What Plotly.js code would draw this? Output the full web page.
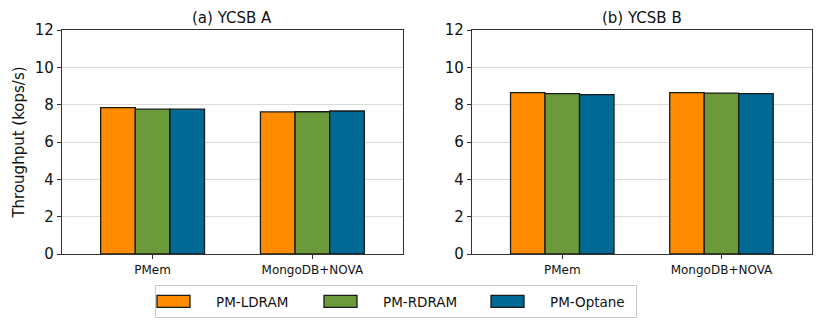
<!DOCTYPE html>
<html>
<head>
<meta charset="utf-8">
<script src="https://cdn.plot.ly/plotly-3.0.1.min.js"></script>
<style>
  html, body { margin: 0; padding: 0; background: #fff; }
  #plotdiv { width: 830px; height: 324px; }
</style>
</head>
<body>
<div id="plotdiv"></div>
<script>
var systems = ['PMem', 'MongoDB+NOVA'];
var seriesNames = ['PM-LDRAM', 'PM-RDRAM', 'PM-Optane'];
var seriesColors = ['#ff8c00', '#6b9a3b', '#006994'];

// throughput in kops/s
var ycsbA = [
  [7.84, 7.61],   // PM-LDRAM
  [7.76, 7.62],   // PM-RDRAM
  [7.76, 7.66]    // PM-Optane
];
var ycsbB = [
  [8.64, 8.64],
  [8.59, 8.62],
  [8.54, 8.59]
];
var panelTitles = ['(a) YCSB A', '(b) YCSB B'];

var font = 'DejaVu Sans, sans-serif';
var domA = [0.0747, 0.4855], domB = [0.5687, 0.978];

var data = [];
seriesNames.forEach(function(name, i){
  data.push({
    x: systems, y: ycsbA[i], type: 'bar', name: name,
    xaxis: 'x', yaxis: 'y', legendgroup: name,
    marker: {color: seriesColors[i], line: {color: '#1a1a1a', width: 1.3}}
  });
  data.push({
    x: systems, y: ycsbB[i], type: 'bar', name: name,
    xaxis: 'x2', yaxis: 'y2', legendgroup: name, showlegend: false,
    marker: {color: seriesColors[i], line: {color: '#1a1a1a', width: 1.3}}
  });
});

function xAxis(dom, anchor){
  return {
    domain: dom, anchor: anchor, type: 'category',
    range: [-0.567, 1.567],
    showline: true, mirror: true, linecolor: '#333', linewidth: 1.2,
    ticks: 'outside', ticklen: 4, tickcolor: '#333',
    tickfont: {family: font, size: 12, color: '#111'},
    showgrid: false, zeroline: false, fixedrange: true
  };
}
function yAxis(anchor){
  return {
    domain: [0.216, 0.9074], anchor: anchor,
    range: [0, 12], dtick: 2,
    showline: true, mirror: true, linecolor: '#333', linewidth: 1.2,
    ticks: 'outside', ticklen: 4, tickcolor: '#333',
    tickfont: {family: font, size: 15, color: '#111'},
    showgrid: true, gridcolor: '#dcdcdc', gridwidth: 1,
    zeroline: false, fixedrange: true
  };
}

var yax = yAxis('x');
yax.title = {text: 'Throughput (kops/s)', font: {family: font, size: 15, color: '#111'}, standoff: 6};

var layout = {
  width: 830, height: 324,
  margin: {l: 0, r: 0, t: 0, b: 0},
  paper_bgcolor: '#fff', plot_bgcolor: '#fff',
  font: {family: font, color: '#111'},
  barmode: 'group', bargap: 0.35, bargroupgap: 0,
  xaxis: xAxis(domA, 'y'),
  xaxis2: xAxis(domB, 'y2'),
  yaxis: yax,
  yaxis2: yAxis('x2'),
  showlegend: true,
  legend: {
    orientation: 'h', x: 155 / 830, xanchor: 'left', y: 0.12, yanchor: 'top',
    bordercolor: '#c8c8c8', borderwidth: 1,
    font: {family: font, size: 13.5, color: '#111'},
    entrywidth: 101, entrywidthmode: 'pixels', itemwidth: 51
  },
  annotations: panelTitles.map(function(t, i){
    var dom = i === 0 ? domA : domB;
    return {
      text: t, xref: 'paper', yref: 'paper',
      x: (dom[0] + dom[1]) / 2, y: 1 - 17.5 / 324,
      xanchor: 'center', yanchor: 'middle', showarrow: false,
      font: {family: font, size: 15, color: '#111'}
    };
  })
};

Plotly.newPlot('plotdiv', data, layout, {displayModeBar: false, staticPlot: true}).then(function(gd){
  // wide rectangular legend swatches like the original figure
  var paths = gd.querySelectorAll('.legend .legendpoints path');
  paths.forEach(function(p){
    p.setAttribute('d', 'M4.5,6H-28.5V-6H4.5Z');
  });
  // trim the legend frame to end just after the last label
  var bg = gd.querySelector('.legend rect.bg');
  if (bg) bg.setAttribute('width', 481);
});
</script>
</body>
</html>
